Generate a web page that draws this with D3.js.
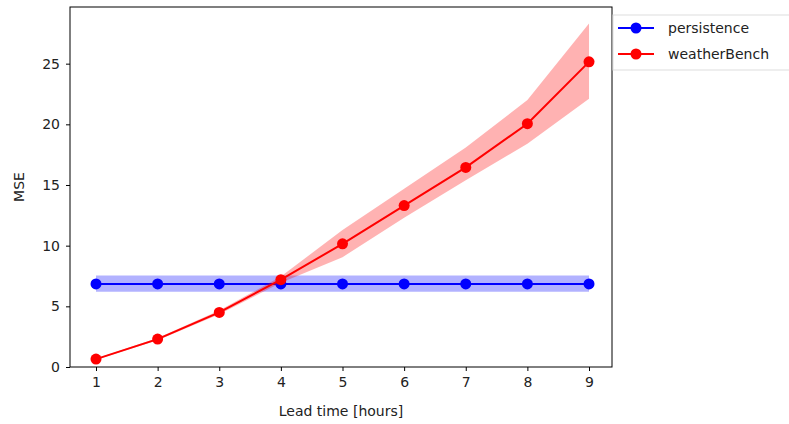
<!DOCTYPE html><html><head><meta charset="utf-8">
<script src="https://cdn.jsdelivr.net/npm/d3@7"></script>
<style>body{margin:0;background:#fff}text{font-family:"DejaVu Sans",sans-serif;fill:#222}</style></head><body>
<svg id="c" width="789" height="424"></svg>
<script>
const leadTimes=[1,2,3,4,5,6,7,8,9];
const persistence=[6.85,6.85,6.85,6.85,6.85,6.85,6.85,6.85,6.85];
const persistenceLo=[6.2,6.2,6.2,6.2,6.2,6.2,6.2,6.2,6.2];
const persistenceHi=[7.55,7.55,7.55,7.55,7.55,7.55,7.55,7.55,7.55];
const weather=[0.65,2.3,4.5,7.2,10.15,13.3,16.45,20.05,25.15];
const weatherLo=[0.6,2.2,4.35,6.95,9.05,12.3,15.4,18.4,22.1];
const weatherHi=[0.7,2.4,4.65,7.45,11.3,14.7,18.1,22.0,28.3];
const yTicks=[0,5,10,15,20,25];
const svg=d3.select("#c");
const L=70,R=612,T=7,B=367;
const x=d3.scaleLinear().domain([0.578,9.373]).range([L,R]);
const y=d3.scaleLinear().domain([0,29.67]).range([B,T]);
function series(v,lo,hi,col){
  svg.append("path").datum(leadTimes.map((d,i)=>[d,lo[i],hi[i]]))
    .attr("d",d3.area().x(d=>x(d[0])).y0(d=>y(d[1])).y1(d=>y(d[2]))).attr("fill",col).attr("opacity",0.3);
  svg.append("path").datum(leadTimes.map((d,i)=>[d,v[i]]))
    .attr("d",d3.line().x(d=>x(d[0])).y(d=>y(d[1]))).attr("stroke",col).attr("stroke-width",2).attr("fill","none");
  svg.selectAll(null).data(leadTimes.map((d,i)=>[d,v[i]])).enter().append("circle")
    .attr("cx",d=>x(d[0])).attr("cy",d=>y(d[1])).attr("r",5.5).attr("fill",col);
}
series(persistence,persistenceLo,persistenceHi,"blue");
series(weather,weatherLo,weatherHi,"red");
svg.append("rect").attr("x",L).attr("y",T).attr("width",R-L).attr("height",B-T).attr("fill","none").attr("stroke","#000").attr("stroke-width",1);
const xa=svg.append("g").attr("transform",`translate(0,${B})`).call(d3.axisBottom(x).tickValues(leadTimes).tickSize(4).tickPadding(6));
const ya=svg.append("g").attr("transform",`translate(${L},0)`).call(d3.axisLeft(y).tickValues(yTicks).tickSize(4).tickPadding(6));
[xa,ya].forEach(a=>{a.select(".domain").remove();a.selectAll("text").style("font-size","14px").style("font-family","DejaVu Sans");});
svg.append("text").attr("x",(L+R)/2).attr("y",416).attr("text-anchor","middle").style("font-size","14px").text("Lead time [hours]");
svg.append("text").attr("transform",`translate(24,${(T+B)/2}) rotate(-90)`).attr("text-anchor","middle").style("font-size","14px").text("MSE");
const lg=svg.append("g");
lg.append("rect").attr("x",613).attr("y",15).attr("width",190).attr("height",55).attr("fill","#fff").attr("stroke","#ddd");
[["persistence","blue"],["weatherBench","red"]].forEach((d,i)=>{
  const yy=28+i*26;
  lg.append("line").attr("x1",618).attr("x2",654).attr("y1",yy).attr("y2",yy).attr("stroke",d[1]).attr("stroke-width",2);
  lg.append("circle").attr("cx",636).attr("cy",yy).attr("r",5.5).attr("fill",d[1]);
  lg.append("text").attr("x",668).attr("y",yy+5).style("font-size","14px").text(d[0]);
});
</script></body></html>
